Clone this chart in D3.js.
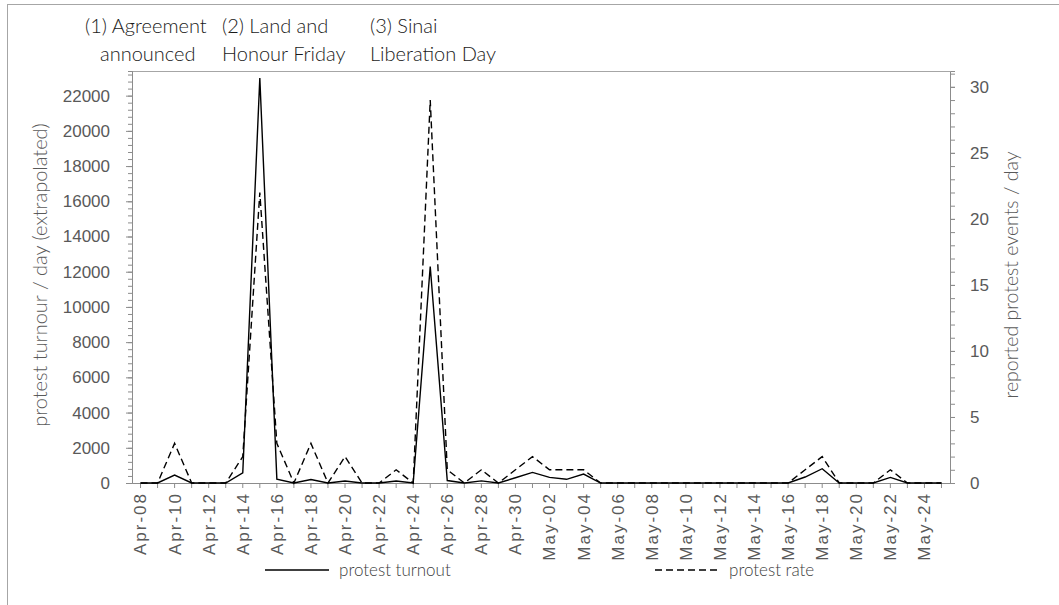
<!DOCTYPE html>
<html>
<head>
<meta charset="utf-8">
<script src="https://cdn.jsdelivr.net/npm/d3@7"></script>
<style>
  body { margin: 0; background: #fff; }
  svg { display: block; font-family: Lato, "Open Sans", sans-serif; font-weight: 300; }
  .axis path, .axis line { stroke: #8c8c8c; }
  .axis text { fill: #595959; font-size: 17px; }
  .x.axis text { letter-spacing: 2px; }
  .title { fill: #595959; }
  .note { fill: #1a1a1a; font-size: 20px; }
  .legend text { fill: #404040; font-size: 17px; }
</style>
</head>
<body>
<script>
// categories (one per day)
const days = [
  'Apr-08','Apr-09','Apr-10','Apr-11','Apr-12','Apr-13','Apr-14','Apr-15','Apr-16','Apr-17',
  'Apr-18','Apr-19','Apr-20','Apr-21','Apr-22','Apr-23','Apr-24','Apr-25','Apr-26','Apr-27',
  'Apr-28','Apr-29','Apr-30','May-01','May-02','May-03','May-04','May-05','May-06','May-07',
  'May-08','May-09','May-10','May-11','May-12','May-13','May-14','May-15','May-16','May-17',
  'May-18','May-19','May-20','May-21','May-22','May-23','May-24','May-25'
]

// protest turnout / day (left axis)
const turnout = [
  0, 0, 450, 0, 0, 0, 580, 23000, 220, 0,
  200, 0, 110, 0, 0, 110, 0, 12300, 140, 0,
  120, 0, 300, 600, 320, 210, 510, 0, 0, 0,
  0, 0, 0, 0, 0, 0, 0, 0, 0, 340,
  810, 0, 0, 0, 320, 0, 0, 0
]

// reported protest events / day (right axis)
const rate = [
  0, 0, 3, 0, 0, 0, 2, 22, 3, 0,
  3, 0, 2, 0, 0, 1, 0, 29, 1, 0,
  1, 0, 1, 2, 1, 1, 1, 0, 0, 0,
  0, 0, 0, 0, 0, 0, 0, 0, 0, 1,
  2, 0, 0, 0, 1, 0, 0, 0
]

const leftTicks = [0, 2000, 4000, 6000, 8000, 10000, 12000, 14000, 16000, 18000, 20000, 22000]
const rightTicks = [0, 5, 10, 15, 20, 25, 30]

const notes = [
  ['(1) Agreement', 'announced'],
  ['(2) Land and', 'Honour Friday'],
  ['(3) Sinai', 'Liberation Day']
]

const series = [
  { name: 'protest turnout', values: turnout, axis: 'left', dash: null },
  { name: 'protest rate', values: rate, axis: 'right', dash: '7,4' }
]

// layout
const W = 1059, H = 605
const PLOT = { left: 132, right: 950, top: 71, bottom: 483 }
const NOTE_X = [[85, 100], [222, 222], [370, 370]]
const NOTE_Y = [33, 61]
const LEG = { y: 570, x: [265, 655] }

const svg = d3.select('body').append('svg')
  .attr('width', W)
  .attr('height', H)

// outer frame
svg.append('rect')
  .attr('x', 7.5).attr('y', 4.5)
  .attr('width', W).attr('height', H)
  .attr('fill', 'none')
  .attr('stroke', '#a6a6a6')

const x = d3.scaleBand()
  .domain(days)
  .range([PLOT.left, PLOT.right])

const yL = d3.scaleLinear()
  .domain([0, 23400])
  .range([PLOT.bottom, PLOT.top])

const yR = d3.scaleLinear()
  .domain([0, 31.2])
  .range([PLOT.bottom, PLOT.top])

const cx = (d) => x(d) + x.bandwidth() / 2

// top border of plot
svg.append('line')
  .attr('x1', PLOT.left).attr('x2', PLOT.right)
  .attr('y1', PLOT.top + 0.5).attr('y2', PLOT.top + 0.5)
  .attr('stroke', '#a6a6a6')

// left axis: minor then major
svg.append('g')
  .attr('class', 'axis')
  .attr('transform', 'translate(' + PLOT.left + ',0)')
  .call(d3.axisLeft(yL).tickValues(d3.range(0, 23400, 400)).tickSize(4).tickFormat(''))
svg.append('g')
  .attr('class', 'axis')
  .attr('transform', 'translate(' + PLOT.left + ',0)')
  .call(d3.axisLeft(yL).tickValues(leftTicks).tickSize(6).tickPadding(16)
    .tickSizeOuter(0).tickFormat(d3.format('d')))

// right axis
svg.append('g')
  .attr('class', 'axis')
  .attr('transform', 'translate(' + PLOT.right + ',0)')
  .call(d3.axisRight(yR).tickValues(d3.range(0, 31.2, 1)).tickSize(5).tickFormat(''))
svg.append('g')
  .attr('class', 'axis')
  .attr('transform', 'translate(' + PLOT.right + ',0)')
  .call(d3.axisRight(yR).tickValues(rightTicks).tickSize(5).tickPadding(15).tickSizeOuter(0))

// x axis, label every second day
let xAxis = svg.append('g')
  .attr('class', 'x axis')
  .attr('transform', 'translate(0,' + PLOT.bottom + ')')
  .call(d3.axisBottom(x).tickSize(5).tickSizeOuter(0)
    .tickFormat((d, i) => i % 2 ? '' : d))

xAxis.selectAll('text')
  .attr('transform', 'rotate(-90)')
  .attr('text-anchor', 'end')
  .attr('x', -9)
  .attr('y', 0)
  .attr('dy', '0.35em')

// axis titles
svg.append('text')
  .attr('class', 'title')
  .attr('transform', 'translate(47,275) rotate(-90)')
  .attr('text-anchor', 'middle')
  .style('font-size', '20px')
  .text('protest turnour / day (extrapolated)')

svg.append('text')
  .attr('class', 'title')
  .attr('transform', 'translate(1018,275) rotate(-90)')
  .attr('text-anchor', 'middle')
  .style('font-size', '19.5px')
  .text('reported protest events / day')

// lines
const lineL = d3.line().x((d, i) => cx(days[i])).y((d) => yL(d))
const lineR = d3.line().x((d, i) => cx(days[i])).y((d) => yR(d))

svg.selectAll('.series')
  .data(series)
  .enter().append('path')
    .attr('class', 'series')
    .attr('fill', 'none')
    .attr('stroke', '#000')
    .attr('stroke-width', 1.4)
    .attr('stroke-dasharray', (s) => s.dash)
    .attr('d', (s) => (s.axis === 'left' ? lineL : lineR)(s.values))

// annotations
notes.forEach((lines, i) => {
  lines.forEach((t, j) => {
    svg.append('text')
      .attr('class', 'note')
      .attr('x', NOTE_X[i][j])
      .attr('y', NOTE_Y[j])
      .text(t)
  })
})

// legend
let legend = svg.append('g').attr('class', 'legend')
series.forEach((s, i) => {
  legend.append('line')
    .attr('x1', LEG.x[i]).attr('x2', LEG.x[i] + 64)
    .attr('y1', LEG.y).attr('y2', LEG.y)
    .attr('stroke', '#000')
    .attr('stroke-width', 1.4)
    .attr('stroke-dasharray', s.dash)
  legend.append('text')
    .attr('x', LEG.x[i] + 74)
    .attr('y', LEG.y)
    .attr('dy', '0.35em')
    .text(s.name)
})
</script>
</body>
</html>
